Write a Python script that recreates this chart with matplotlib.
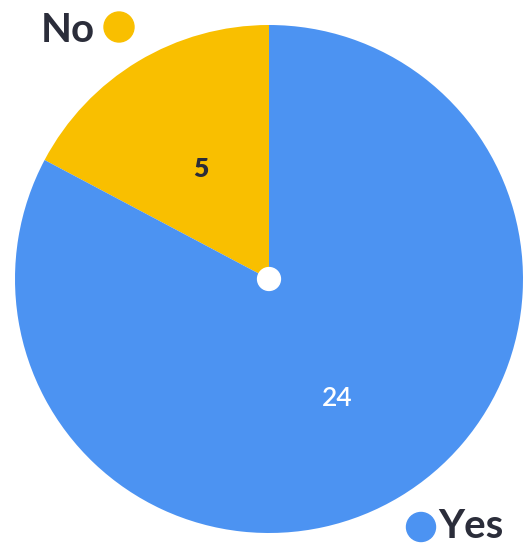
import matplotlib
matplotlib.use("Agg")
import matplotlib.pyplot as plt

labels = ["No", "Yes"]
values = [5, 24]
colors = ["#F9BF00", "#4C93F2"]

W, H = 529, 552
fig = plt.figure(figsize=(W / 100, H / 100), dpi=100)
cx, cy, r = 269, H - 279, 254
ax = fig.add_axes([(cx - r) / W, (cy - r) / H, 2 * r / W, 2 * r / H])
total = sum(values)
wedges, texts, autotexts = ax.pie(
    values, colors=colors, startangle=90, counterclock=True,
    autopct=lambda p: f"{round(p * total / 100)}", pctdistance=0.52,
    wedgeprops=dict(linewidth=0))
for t in autotexts:
    t.set_fontsize(19)
    t.set_family("Lato")
autotexts[0].set_color("#2B2D3A")
autotexts[0].set_fontweight("heavy")
autotexts[0].set_y(autotexts[0].get_position()[1] - 0.014)
autotexts[1].set_color("white")
autotexts[1].set_fontweight("semibold")
autotexts[1].set_y(autotexts[1].get_position()[1] - 0.026)
ax.add_patch(plt.Circle((0, 0), 0.045, color="white", zorder=5))
ax.set_xlim(-1, 1)
ax.set_ylim(-1, 1)
ax.axis("off")

# legend-like labels in pixel coordinates
ov = fig.add_axes([0, 0, 1, 1])
ov.set_xlim(0, W)
ov.set_ylim(H, 0)
ov.axis("off")
ov.patch.set_alpha(0)
ov.text(68, 31, labels[0], fontsize=29, color="#2B2D3A", ha="center", va="center",
        family="Lato", fontweight="bold")
ov.add_patch(plt.Circle((119, 27), 15, color=colors[0]))
ov.text(471, 526, labels[1], fontsize=29, color="#2B2D3A", ha="center", va="center",
        family="Lato", fontweight="bold")
ov.add_patch(plt.Circle((421, 527), 14.5, color=colors[1]))

fig.savefig("out.png", dpi=100, facecolor="white")
